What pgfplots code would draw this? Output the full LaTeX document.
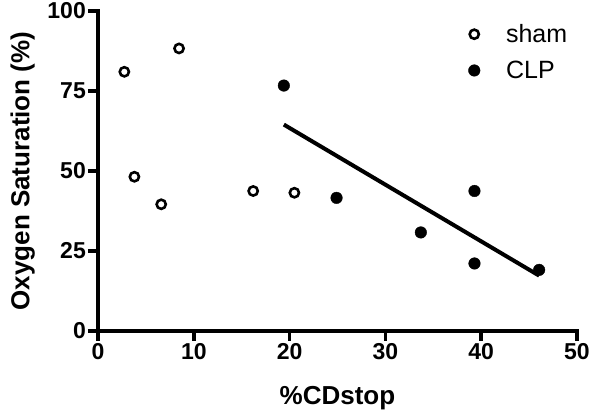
\documentclass[border=0pt]{standalone}
\usepackage{fontspec}
\setmainfont{Liberation Sans}
\usepackage{pgfplots}
\pgfplotsset{compat=1.18}
\newcommand{\tickfont}{\fontsize{23}{27}\selectfont\bfseries}
\begin{document}
\begin{tikzpicture}
\begin{axis}[
  scale only axis, width=479pt, height=320pt,
  xmin=0, xmax=50, ymin=0, ymax=100,
  axis x line=bottom, axis y line=left,
  axis line style={-, line width=3.5pt, line cap=rect},
  xtick={0,10,20,30,40,50}, ytick={0,25,50,75,100},
  xticklabels={0,10,20,30,40,50},
  yticklabels={0,25,50,75,100},
  tick style={line width=3.5pt, black},
  tick align=outside, major tick length=10pt,
  xticklabel style={font=\tickfont, inner sep=1pt, yshift=-1pt},
  yticklabel style={font=\tickfont, inner sep=1pt, xshift=-1pt},
  xlabel={\%CDstop}, ylabel={Oxygen Saturation (\%)},
  label style={font=\bfseries\fontsize{26}{30}\selectfont},
  xlabel style={at={(axis description cs:0.5,-0.21)}, anchor=center},
  ylabel style={at={(axis description cs:-0.157,0.5)}, anchor=center},
  clip=false,
  legend style={at={(rel axis cs:0.773,0.965)}, anchor=north west, draw=none, fill=none,
    font=\fontsize{25}{30}\selectfont, row sep=13pt, inner sep=0pt,
    /tikz/every odd column/.append style={column sep=24pt}},
  legend cell align=left,
]
\addplot[only marks, mark=o, mark size=4.6pt, mark options={line width=2.6pt, black}] coordinates {
 (2.75,81.0) (8.46,88.3) (3.8,48.2) (6.6,39.6) (16.2,43.75) (20.5,43.2)
};
\addlegendentry{sham}
\addplot[only marks, mark=*, mark size=5.8pt, mark options={black, fill=black}] coordinates {
 (19.4,76.7) (24.9,41.6) (33.7,30.8) (39.3,43.75) (39.3,21.1) (46.05,19.1)
};
\addlegendentry{CLP}
\addplot[black, line width=4pt, forget plot] coordinates {(19.4,64.5) (46.05,17.3)};
\end{axis}
\path[use as bounding box] (-98pt,-86pt) rectangle (502pt,331pt);
\end{tikzpicture}
\end{document}
